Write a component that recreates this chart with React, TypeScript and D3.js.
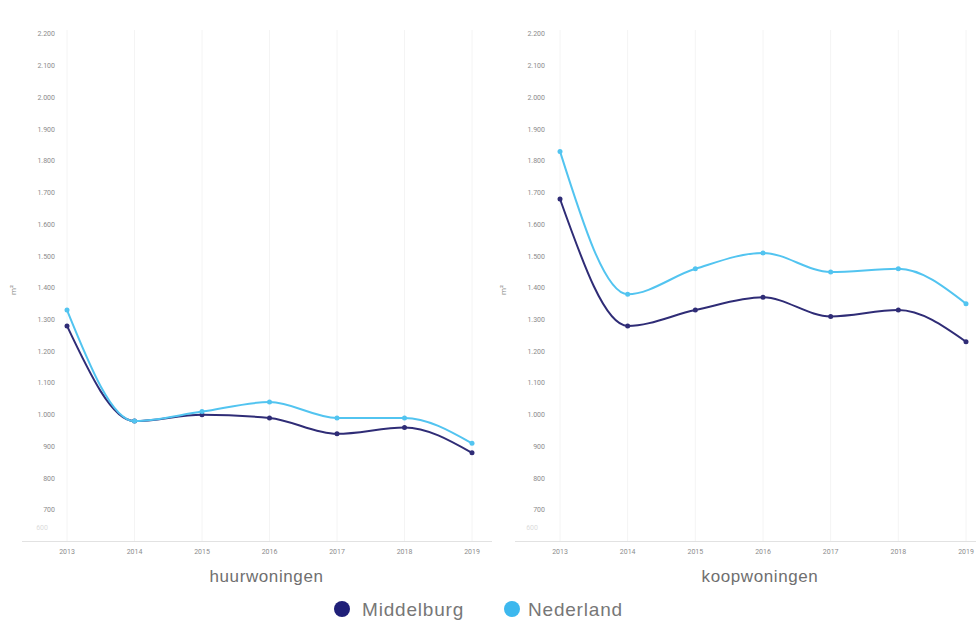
import React from "react";
import * as d3 from "d3";

const years = ["2013", "2014", "2015", "2016", "2017", "2018", "2019"];
const yTicks = [700, 800, 900, 1000, 1100, 1200, 1300, 1400, 1500, 1600, 1700, 1800, 1900, 2000, 2100, 2200];
const huurMiddelburg = [1280, 980, 1000, 990, 940, 960, 880];
const huurNederland = [1330, 980, 1010, 1040, 990, 990, 910];
const koopMiddelburg = [1680, 1280, 1330, 1370, 1310, 1330, 1230];
const koopNederland = [1830, 1380, 1460, 1510, 1450, 1460, 1350];
const seriesNames = ["Middelburg", "Nederland"];
const seriesColors = ["#2f2c76", "#52c4f0"];

const fmt = (v: number) => (v >= 1000 ? d3.format(",")(v).replace(",", ".") : String(v));

function Panel({ x0, axisLeft, axisRight, xFirst, xLast, title, data }: any) {
  const y = d3.scaleLinear().domain([600, 2200]).range([541.7, 34]);
  const x = d3.scalePoint<string>().domain(years).range([xFirst, xLast]);
  const line = d3
    .line<number>()
    .x((_, i) => x(years[i]) as number)
    .y((d) => y(d))
    .curve(d3.curveMonotoneX);
  return (
    <g>
      {years.map((yr) => (
        <line key={yr} x1={x(yr)} x2={x(yr)} y1={30} y2={541} stroke="#f4f4f4" strokeWidth={1} />
      ))}
      <line x1={axisLeft} x2={axisRight} y1={541.5} y2={541.5} stroke="#e2e2e2" />
      {yTicks.map((t) => (
        <text key={t} x={x0 + 55} y={y(t)} dy="0.35em" textAnchor="end" fontSize={7} fill="#8c8c8c">
          {fmt(t)}
        </text>
      ))}
      <text x={x0 + 48} y={528} dy="0.35em" textAnchor="end" fontSize={7} fill="#dcdcdc">600</text>
      <text
        transform={`translate(${x0 + 16},290) rotate(-90)`}
        textAnchor="middle"
        fontSize={8}
        fill="#8c8c8c"
      >
        m²
      </text>
      {years.map((yr) => (
        <text key={yr} x={x(yr)} y={552} dy="0.35em" textAnchor="middle" fontSize={7} fill="#8c8c8c">
          {yr}
        </text>
      ))}
      <text
        x={(xFirst + xLast) / 2 - 3}
        y={582}
        textAnchor="middle"
        fontSize={17}
        letterSpacing={0.6}
        fill="#6f6f6f"
        fontFamily="'Liberation Sans', Arial, sans-serif"
      >
        {title}
      </text>
      {data.map((s: number[], si: number) => (
        <g key={si}>
          <path d={line(s) as string} fill="none" stroke={seriesColors[si]} strokeWidth={2} />
          {s.map((v, i) => (
            <circle key={i} cx={x(years[i])} cy={y(v)} r={2.5} fill={seriesColors[si]} />
          ))}
        </g>
      ))}
    </g>
  );
}

export default function App() {
  return (
    <svg
      width={976}
      height={621}
      style={{ position: "absolute", left: 0, top: 0, background: "#fff" }}
      fontFamily="Roboto, 'Noto Sans', sans-serif"
    >
      <Panel
        x0={0}
        axisLeft={22}
        axisRight={492}
        xFirst={67}
        xLast={472}
        title="huurwoningen"
        data={[huurMiddelburg, huurNederland]}
      />
      <Panel
        x0={490}
        axisLeft={515}
        axisRight={976}
        xFirst={560}
        xLast={966}
        title="koopwoningen"
        data={[koopMiddelburg, koopNederland]}
      />
      <g fontFamily="'Liberation Sans', Arial, sans-serif" fontSize={19} fill="#777" letterSpacing={0.8}>
        <circle cx={342} cy={609} r={8} fill="#1f1f78" />
        <text x={362} y={609} dy="0.35em">{seriesNames[0]}</text>
        <circle cx={512} cy={609} r={8} fill="#3db8ee" />
        <text x={528} y={609} dy="0.35em">{seriesNames[1]}</text>
      </g>
    </svg>
  );
}
